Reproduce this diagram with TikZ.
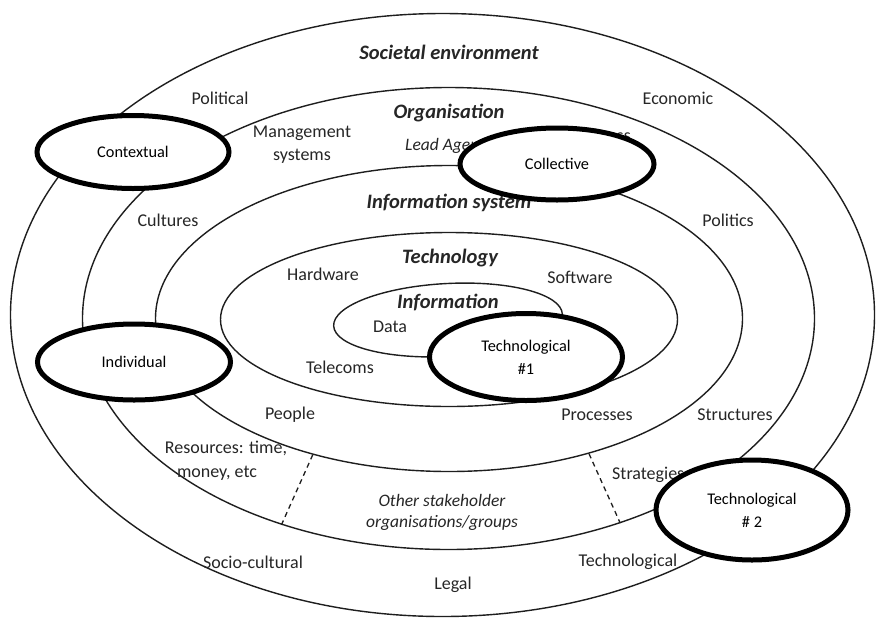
\documentclass[tikz,border=0pt]{standalone}
\usepackage{fontspec}
\setmainfont{Carlito}
\usetikzlibrary{shapes.geometric}
\definecolor{ink}{HTML}{262626}
\definecolor{rim}{HTML}{1E1E1E}
\begin{document}
\begin{tikzpicture}[x=1pt,y=-1pt,
  ring/.style={ellipse, draw=rim, line width=1.4pt, inner sep=0pt},
  lbl/.style={font=\fontsize{18}{21}\selectfont, text=ink, inner sep=0pt, align=center},
  head/.style={lbl, font=\fontsize{20.5}{24}\selectfont\bfseries\itshape},
  sub/.style={lbl, font=\fontsize{17.5}{21}\selectfont\itshape},
  tag/.style={ellipse, draw=black, line width=5pt, fill=white, inner sep=0pt,
    font=\fontsize{16.3}{23}\selectfont, align=center, text=black},
  split/.style={draw=rim, line width=1.3pt, dash pattern=on 5pt off 4pt}]
\useasboundingbox (0,0) rectangle (877,619);
\fill[white] (0,0) rectangle (877,619);

% concentric rings
\node[ring, minimum width=864pt, minimum height=603pt] (societal) at (442.5,315) {};
\node[ring, minimum width=732pt, minimum height=462pt] (organisation) at (448.5,318.5) {};
\node[ring, minimum width=587pt, minimum height=306pt] (infosys) at (449,318.5) {};
\node[ring, minimum width=457pt, minimum height=174pt] (technology) at (449,319.5) {};
\node[ring, minimum width=229pt, minimum height=73pt, rotate=3] (information) at (448,320) {};

% dashed boundaries of the stakeholder sector
\coordinate (dlA) at (infosys.225.3);
\coordinate (dlB) at (organisation.231);
\coordinate (drA) at (infosys.-44.5);
\coordinate (drB) at (organisation.-50.6);
\draw[split] (dlA) -- (dlB);
\draw[split] (drA) -- (drB);

% ring labels
\node[head] (tSoc) at (449,52) {Societal environment};
\node[lbl] (tPolitical) at (220,98) {Political};
\node[lbl] (tEconomic) at (678,98) {Economic};
\node[head] (tOrg) at (449,113) {Organisation};
\node[lbl] (tMgmt1) at (302,133) {Management};
\node[lbl] (tMgmt2) at (302,156) {systems};
\node[sub, anchor=west] (tLead) at (405,146) {Lead Agency};
\node[lbl, anchor=east] (tBus) at (631,135) {Business};
\node[head] (tIS) at (449,203) {Information system};
\node[lbl] (tCultures) at (168,220) {Cultures};
\node[lbl] (tPolitics) at (728,220) {Politics};
\node[head] (tTech) at (450,258) {Technology};
\node[lbl] (tHardware) at (323,274) {Hardware};
\node[lbl] (tSoftware) at (580,277) {Software};
\node[head] (tInfo) at (448,302) {Information};
\node[lbl] (tData) at (390,327) {Data};
\node[lbl] (tTelecoms) at (340,367) {Telecoms};
\node[lbl] (tPeople) at (290,415) {People};
\node[lbl] (tProcesses) at (597,415) {Processes};
\node[lbl] (tStructures) at (735,415) {Structures};
\node[lbl] (tRes1) at (226,448) {Resources: time,};
\node[lbl] (tRes2) at (217,473) {money, etc};
\node[lbl, anchor=west] (tStrat) at (612,475) {Strategies};
\node[sub] (tOther1) at (442,500) {Other stakeholder};
\node[sub] (tOther2) at (442,523) {organisations/groups};
\node[lbl] (tSocio) at (253,562) {Socio-cultural};
\node[lbl] (tTechn) at (628,562) {Technological};
\node[lbl] (tLegal) at (453,585) {Legal};

% overlay categories
\node[tag, minimum width=192pt, minimum height=73pt] (contextual) at (133,152) {Contextual};
\node[tag, minimum width=194pt, minimum height=72pt] (collective) at (557,164) {Collective};
\node[tag, minimum width=193pt, minimum height=76pt] (individual) at (134,362) {Individual};
\node[tag, minimum width=193pt, minimum height=87pt] (tech1) at (526,357) {Technological\\\#1};
\node[tag, minimum width=192pt, minimum height=100pt] (tech2) at (752,510) {Technological\\\# 2};
\end{tikzpicture}
\end{document}
